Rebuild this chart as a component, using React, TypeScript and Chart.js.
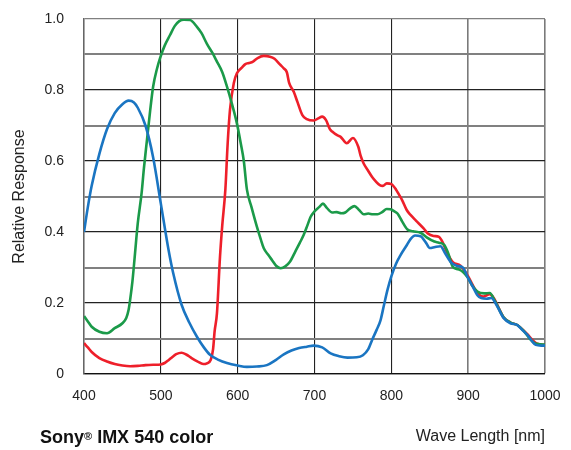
import React, { useEffect, useRef } from 'react';
import { Chart, registerables } from 'chart.js';

Chart.register(...registerables);

// ---- Data (wavelength in nm, relative response) ----
const blueWl = [400, 405, 410, 420, 430, 440, 450, 458, 465, 470, 480, 490, 500, 510, 516, 527, 537, 547, 556, 564, 575, 586, 600, 612, 625, 638, 650, 660, 670, 680, 690, 699, 710, 721, 732, 743, 755, 763, 770, 775, 781, 786, 790, 795, 800, 806, 812, 819, 825, 831, 838, 845, 850, 857, 864, 870, 877, 885, 893, 900, 906, 912, 917, 924, 930, 938, 946, 955, 964, 970, 977, 983, 988, 995, 1000];
const blueVal = [0.40, 0.47, 0.53, 0.62, 0.69, 0.735, 0.76, 0.77, 0.765, 0.75, 0.70, 0.61, 0.48, 0.35, 0.285, 0.195, 0.145, 0.105, 0.075, 0.054, 0.04, 0.031, 0.024, 0.02, 0.021, 0.025, 0.04, 0.055, 0.066, 0.073, 0.077, 0.08, 0.075, 0.058, 0.05, 0.046, 0.047, 0.053, 0.07, 0.096, 0.125, 0.152, 0.19, 0.237, 0.275, 0.31, 0.335, 0.359, 0.38, 0.39, 0.388, 0.37, 0.355, 0.358, 0.36, 0.34, 0.316, 0.305, 0.30, 0.27, 0.246, 0.222, 0.214, 0.212, 0.214, 0.19, 0.158, 0.143, 0.138, 0.125, 0.11, 0.093, 0.082, 0.08, 0.08];

const greenWl = [400, 405, 410, 420, 430, 440, 450, 455, 458, 460, 463, 466, 470, 475, 478, 482, 486, 490, 495, 499, 505, 512, 518, 524, 530, 538, 547, 553, 560, 567, 573, 580, 586, 592, 599, 604, 608, 612, 618, 625, 630, 634, 640, 645, 650, 656, 662, 668, 675, 681, 686, 691, 695, 700, 706, 711, 716, 723, 729, 735, 740, 746, 752, 758, 764, 770, 776, 782, 788, 794, 799, 804, 808, 814, 821, 828, 838, 846, 856, 862, 869, 874, 880, 887, 893, 900, 905, 912, 921, 928, 935, 946, 955, 964, 972, 980, 987, 993, 1000];
const greenVal = [0.163, 0.148, 0.133, 0.119, 0.115, 0.129, 0.143, 0.158, 0.18, 0.208, 0.26, 0.33, 0.425, 0.51, 0.58, 0.66, 0.74, 0.81, 0.86, 0.89, 0.925, 0.955, 0.98, 0.994, 0.998, 0.997, 0.978, 0.96, 0.93, 0.905, 0.88, 0.85, 0.81, 0.765, 0.706, 0.65, 0.60, 0.52, 0.47, 0.415, 0.38, 0.354, 0.335, 0.32, 0.305, 0.298, 0.303, 0.316, 0.345, 0.37, 0.392, 0.42, 0.443, 0.458, 0.47, 0.48, 0.468, 0.455, 0.456, 0.453, 0.455, 0.466, 0.473, 0.462, 0.45, 0.452, 0.45, 0.45, 0.456, 0.465, 0.464, 0.458, 0.452, 0.43, 0.407, 0.402, 0.398, 0.385, 0.373, 0.37, 0.363, 0.34, 0.302, 0.295, 0.288, 0.27, 0.25, 0.232, 0.227, 0.228, 0.205, 0.16, 0.145, 0.138, 0.122, 0.10, 0.086, 0.084, 0.083];

const redWl = [400, 405, 410, 420, 430, 440, 450, 460, 470, 480, 490, 500, 505, 510, 515, 520, 527, 533, 540, 548, 555, 560, 565, 568, 570, 573, 577, 580, 584, 587, 590, 595, 599, 605, 610, 615, 620, 626, 634, 642, 648, 655, 660, 664, 667, 673, 678, 684, 690, 699, 705, 710, 715, 720, 723, 730, 734, 742, 750, 757, 760, 764, 770, 775, 780, 785, 789, 794, 800, 806, 810, 814, 820, 825, 832, 842, 848, 855, 862, 867, 873, 880, 890, 900, 906, 912, 920, 928, 933, 940, 946, 955, 964, 970, 977, 984, 990, 1000];
const redVal = [0.087, 0.075, 0.062, 0.045, 0.035, 0.028, 0.024, 0.022, 0.023, 0.025, 0.026, 0.027, 0.031, 0.039, 0.048, 0.056, 0.06, 0.055, 0.045, 0.035, 0.028, 0.03, 0.04, 0.07, 0.12, 0.17, 0.33, 0.42, 0.52, 0.65, 0.744, 0.82, 0.847, 0.862, 0.873, 0.876, 0.88, 0.89, 0.896, 0.894, 0.888, 0.872, 0.861, 0.85, 0.82, 0.795, 0.765, 0.73, 0.718, 0.714, 0.72, 0.725, 0.715, 0.69, 0.683, 0.672, 0.668, 0.65, 0.665, 0.64, 0.615, 0.593, 0.572, 0.555, 0.542, 0.532, 0.53, 0.537, 0.535, 0.52, 0.505, 0.49, 0.462, 0.448, 0.432, 0.41, 0.395, 0.389, 0.386, 0.37, 0.34, 0.315, 0.305, 0.275, 0.25, 0.228, 0.218, 0.225, 0.215, 0.185, 0.16, 0.145, 0.138, 0.127, 0.112, 0.095, 0.085, 0.082];

const xTickValues = [400, 500, 600, 700, 800, 900, 1000];
const yTickValues = [0, 0.2, 0.4, 0.6, 0.8, 1.0];

const chartTitle = 'Sony';
const chartSubtitle = ' IMX 540 color';
const xTitle = 'Wave Length [nm]';
const yTitle = 'Relative Response';

const FONT = '"Liberation Sans", Arial, Helvetica, sans-serif';

export default function App() {
  const ref = useRef<HTMLCanvasElement>(null);

  useEffect(() => {
    const toPts = (wl: number[], v: number[]) => wl.map((x, i) => ({ x, y: v[i] }));
    const common = {
      pointRadius: 0,
      borderWidth: 2.6,
      fill: false,
      cubicInterpolationMode: 'monotone' as const,
    };
    const chart = new Chart(ref.current as HTMLCanvasElement, {
      type: 'line',
      data: {
        datasets: [
          { label: 'Blue', data: toPts(blueWl, blueVal), borderColor: '#1a75c2', ...common },
          { label: 'Green', data: toPts(greenWl, greenVal), borderColor: '#1b9a49', ...common },
          { label: 'Red', data: toPts(redWl, redVal), borderColor: '#ee1f2a', ...common },
        ],
      },
      options: {
        responsive: false,
        animation: false,
        events: [],
        layout: { padding: { left: 0, right: 26, top: 19, bottom: 0 } },
        plugins: { legend: { display: false }, tooltip: { enabled: false } },
        scales: {
          x: {
            type: 'linear',
            min: 400,
            max: 1000,
            afterFit: (s: any) => {
              s.height = 76;
              s.paddingLeft = 0;
              s.paddingRight = 0;
            },
            afterBuildTicks: (s: any) => { s.ticks = xTickValues.map((v) => ({ value: v })); },
            ticks: {
              padding: 14,
              color: '#222',
              font: { family: FONT, size: 14 },
              maxRotation: 0,
              callback: (v: any) => String(v),
            },
            grid: {
              drawTicks: false,
              color: (c: any) => (c.tick && c.tick.value >= 900 ? '#7a7a7a' : '#222'),
              lineWidth: (c: any) => (c.tick && c.tick.value >= 900 ? 1.6 : 1.1),
            },
            border: { color: '#111', width: 1.3 },
            title: {
              display: true,
              text: xTitle,
              align: 'end',
              color: '#222',
              font: { family: FONT, size: 16 },
              padding: { top: 0, bottom: 4 },
            },
          },
          y: {
            type: 'linear',
            min: 0,
            max: 1,
            afterFit: (s: any) => {
              s.width = 84;
              s.paddingTop = 0;
              s.paddingBottom = 0;
            },
            afterBuildTicks: (s: any) => {
              const t: { value: number }[] = [];
              for (let i = 0; i <= 10; i++) t.push({ value: i / 10 });
              s.ticks = t;
            },
            ticks: {
              padding: 20,
              color: '#222',
              font: { family: FONT, size: 14 },
              callback: (v: any) => {
                const n = Math.round(Number(v) * 10);
                const match = yTickValues.find((y) => Math.round(y * 10) === n);
                if (match === undefined) return '';
                return match === 0 ? '0' : match.toFixed(1);
              },
            },
            grid: {
              drawTicks: false,
              color: (c: any) => {
                const n = Math.round((c.tick ? c.tick.value : 0) * 10);
                return n % 2 === 1 || n === 10 ? '#808080' : '#222';
              },
              lineWidth: (c: any) => {
                const n = Math.round((c.tick ? c.tick.value : 0) * 10);
                return n % 2 === 1 ? 2 : 1.2;
              },
            },
            border: { color: '#666', width: 1.5 },
            title: {
              display: true,
              text: yTitle,
              color: '#222',
              font: { family: FONT, size: 16 },
              padding: { top: 10, bottom: 0 },
            },
          },
        },
      },
    });
    return () => chart.destroy();
  }, []);

  return (
    <div style={{ position: 'absolute', left: 0, top: 0, width: 571, height: 450, background: '#fff' }}>
      <canvas ref={ref} width={571} height={450} style={{ display: 'block' }} />
      <div
        style={{
          position: 'absolute',
          left: 40,
          top: 426,
          fontFamily: FONT,
          fontWeight: 'bold',
          fontSize: 18,
          lineHeight: '22px',
          color: '#111',
          whiteSpace: 'nowrap',
        }}
      >
        {chartTitle}
        <sup style={{ fontSize: 11, verticalAlign: 'top', position: 'relative', top: -1 }}>®</sup>
        {chartSubtitle}
      </div>
    </div>
  );
}
